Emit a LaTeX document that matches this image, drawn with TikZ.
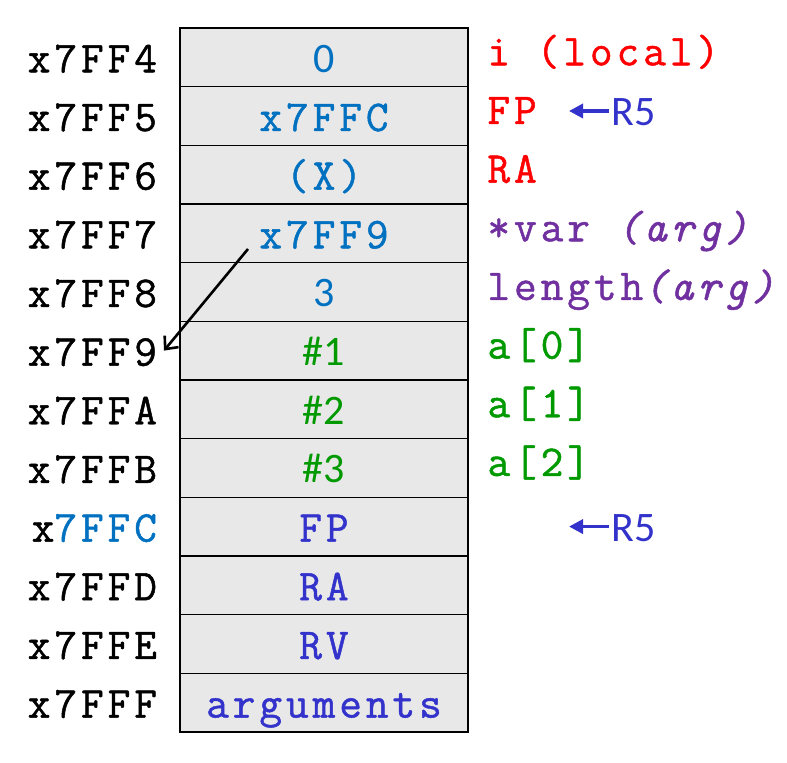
\documentclass[tikz,border=0pt]{standalone}
\usepackage{fontspec}
\setmainfont{Latin Modern Mono}[LetterSpace=9, FakeBold=1.1]
\newfontfamily\calib{Carlito}
\usepackage{tikz}
\usetikzlibrary{positioning,arrows.meta}

\definecolor{cellgray}{HTML}{E8E8E8}
\definecolor{ptrblue}{HTML}{0070C0}
\definecolor{argpurple}{HTML}{7030A0}
\definecolor{arrgreen}{HTML}{009A00}
\definecolor{framblue}{HTML}{3333CC}

\begin{document}
\begin{tikzpicture}
[
x=0.5pt, y=-0.5pt,
every node/.style={font=\fontsize{22}{26}\selectfont, text height=15pt, text depth=0pt},
cell/.style={draw, line width=0.7pt, fill=cellgray, outer sep=0pt, minimum width=144pt, minimum height=29.33pt, inner sep=0pt},
note/.style={yshift=3.5pt},
reg/.style={font=\calib\fontsize{21}{25}\selectfont, text=framblue, inner sep=1pt, anchor=west},
regarrow/.style={framblue, line width=1.7pt, -{Triangle[length=7pt,width=7pt]}}
]
\useasboundingbox (0,0) rectangle (787,763);

% the stack
\node[cell, text=ptrblue] (c4) at (324,57.3) {\calib\fontsize{21}{25}\selectfont 0};
\node[cell, text=ptrblue, below=0pt of c4] (c5) {x7FFC};
\node[cell, text=ptrblue, below=0pt of c5] (c6) {(X)};
\node[cell, text=ptrblue, below=0pt of c6] (c7) {x7FF9};
\node[cell, text=ptrblue, below=0pt of c7] (c8) {\calib\fontsize{21}{25}\selectfont 3};
\node[cell, text=arrgreen, below=0pt of c8] (c9) {\calib\fontsize{21}{25}\selectfont\#1};
\node[cell, text=arrgreen, below=0pt of c9] (cA) {\calib\fontsize{21}{25}\selectfont\#2};
\node[cell, text=arrgreen, below=0pt of cA] (cB) {\calib\fontsize{21}{25}\selectfont\#3};
\node[cell, text=framblue, below=0pt of cB] (cC) {FP};
\node[cell, text=framblue, below=0pt of cC] (cD) {RA};
\node[cell, text=framblue, below=0pt of cD] (cE) {RV};
\node[cell, text=framblue, below=0pt of cE] (cF) {arguments};

% addresses
\node[left=8pt of c4] (a4) {x7FF4};
\node[left=8pt of c5] (a5) {x7FF5};
\node[left=8pt of c6] (a6) {x7FF6};
\node[left=8pt of c7] (a7) {x7FF7};
\node[left=8pt of c8] (a8) {x7FF8};
\node[left=8pt of c9] (a9) {x7FF9};
\node[left=8pt of cA] (aA) {x7FFA};
\node[left=8pt of cB] (aB) {x7FFB};
\node[left=8pt of cC] (aC) {x\textcolor{ptrblue}{7FFC}};
\node[left=8pt of cD] (aD) {x7FFD};
\node[left=8pt of cE] (aE) {x7FFE};
\node[left=8pt of cF] (aF) {x7FFF};

% what each slot holds
\node[note, text=red, right=6.2pt of c4] (n4) {i (local)};
\node[note, text=red, right=6.2pt of c5] (n5) {FP};
\node[note, text=red, right=6.2pt of c6] (n6) {RA};
\node[note, text=argpurple, right=6.2pt of c7] (n7) {*var \textit{(arg)}};
\node[note, text=argpurple, right=6.2pt of c8] (n8) {length\textit{(arg)}};
\node[note, text=arrgreen, right=6.2pt of c9] (n9) {a[0]};
\node[note, text=arrgreen, right=6.2pt of cA] (nA) {a[1]};
\node[note, text=arrgreen, right=6.2pt of cB] (nB) {a[2]};

% frame pointer
\node[reg] (r5a) at (609,111) {R5};
\node[reg] (r5b) at (r5a.west |- cC) {R5};
\coordinate[left=20pt of r5a.west] (t5a);
\coordinate[left=20pt of r5b.west] (t5b);
\draw[regarrow] (r5a.west) -- (t5a);
\draw[regarrow] (r5b.west) -- (t5b);

% pointer to a[0]
\coordinate (ptr) at (248,249);
\draw[line width=1.3pt, -{Straight Barb[length=5pt,width=9pt]}] (ptr) -- (a9.east);
\end{tikzpicture}
\end{document}
